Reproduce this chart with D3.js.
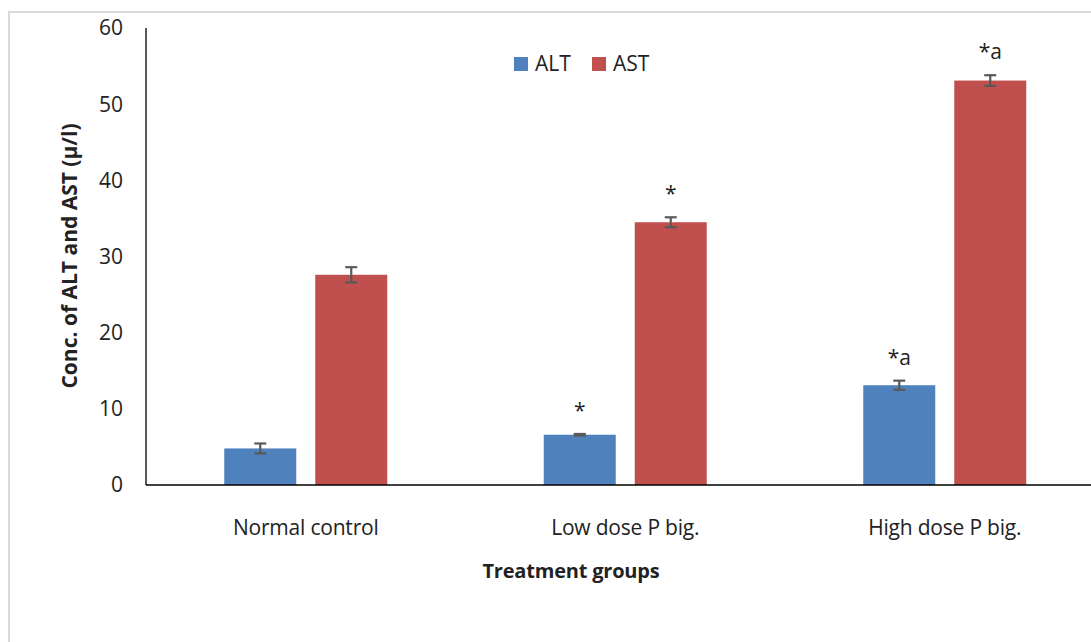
<!DOCTYPE html>
<html>
<head>
<meta charset="utf-8">
<script src="https://cdn.jsdelivr.net/npm/d3@7"></script>
<style>
  body { margin: 0; background: #fff; }
  text { font-family: "Open Sans", sans-serif; fill: #222; }
</style>
</head>
<body>
<svg id="chart" width="1091" height="642"></svg>
<script>
// data
const groups = ["Normal control", "Low dose P big.", "High dose P big."];
const seriesNames = ["ALT", "AST"];
const altValues = [4.8, 6.6, 13.1];
const astValues = [27.6, 34.5, 53.1];
const altErrors = [0.65, 0.1, 0.6];
const astErrors = [1.0, 0.65, 0.7];
const altMarks = ["", "*", "*a"];
const astMarks = ["", "*", "*a"];
const yTicks = [0, 10, 20, 30, 40, 50, 60];
const colors = ["#4F81BD", "#C0504D"];

const svg = d3.select("#chart");

// outer frame
svg.append("path")
    .attr("d", "M9,642 V12 H1091")
    .attr("fill", "none")
    .attr("stroke", "#d9d9d9")
    .attr("stroke-width", 2);

const margin = {top: 28, left: 146, bottom: 485};

const x0 = d3.scaleBand()
    .domain(groups)
    .range([margin.left, margin.left + 3 * 319.5])
    .paddingInner(0)
    .paddingOuter(0);

const x1 = d3.scaleBand()
    .domain(seriesNames)
    .range([0, 163])
    .paddingInner(19 / 91)
    .paddingOuter(0);

const y = d3.scaleLinear()
    .domain([0, 60])
    .range([margin.bottom, margin.top]);

// y tick labels
svg.append("g")
    .selectAll("text")
    .data(yTicks)
    .enter()
    .append("text")
    .attr("x", 123)
    .attr("y", d => y(d))
    .attr("dy", "0.35em")
    .attr("text-anchor", "end")
    .style("font-size", "21px")
    .text(d => d);

const rows = groups.map((g, i) => ({
    group: g,
    bars: [
        {name: "ALT", value: altValues[i], err: altErrors[i], mark: altMarks[i]},
        {name: "AST", value: astValues[i], err: astErrors[i], mark: astMarks[i]}
    ]
}));

const groupOffset = (x0.bandwidth() - 163) / 2;

const g = svg.append("g")
    .selectAll("g")
    .data(rows)
    .enter()
    .append("g")
    .attr("transform", d => `translate(${x0(d.group) + groupOffset},0)`);

g.selectAll("rect")
    .data(d => d.bars)
    .enter()
    .append("rect")
    .attr("x", d => x1(d.name))
    .attr("y", d => y(d.value))
    .attr("width", x1.bandwidth())
    .attr("height", d => y(0) - y(d.value))
    .attr("fill", (d, i) => colors[i]);

// error bars
const err = g.selectAll(".err")
    .data(d => d.bars)
    .enter()
    .append("g")
    .attr("class", "err")
    .attr("stroke", "#595959")
    .attr("stroke-width", 2.2);

err.append("line")
    .attr("x1", d => x1(d.name) + x1.bandwidth() / 2)
    .attr("x2", d => x1(d.name) + x1.bandwidth() / 2)
    .attr("y1", d => y(d.value + d.err))
    .attr("y2", d => y(d.value - d.err));

err.append("line")
    .attr("x1", d => x1(d.name) + x1.bandwidth() / 2 - 6)
    .attr("x2", d => x1(d.name) + x1.bandwidth() / 2 + 6)
    .attr("y1", d => y(d.value + d.err))
    .attr("y2", d => y(d.value + d.err));

err.append("line")
    .attr("x1", d => x1(d.name) + x1.bandwidth() / 2 - 6)
    .attr("x2", d => x1(d.name) + x1.bandwidth() / 2 + 6)
    .attr("y1", d => y(d.value - d.err))
    .attr("y2", d => y(d.value - d.err));

// significance marks
g.selectAll(".mark")
    .data(d => d.bars)
    .enter()
    .append("text")
    .attr("class", "mark")
    .attr("x", d => x1(d.name) + x1.bandwidth() / 2)
    .attr("y", d => y(d.value + d.err) - 16)
    .attr("text-anchor", "middle")
    .style("font-size", "21px")
    .text(d => d.mark);

// axes lines
svg.append("line")
    .attr("x1", margin.left).attr("x2", margin.left)
    .attr("y1", y(60)).attr("y2", y(0))
    .attr("stroke", "#000").attr("stroke-width", 1.3);

svg.append("line")
    .attr("x1", margin.left).attr("x2", 1091)
    .attr("y1", y(0)).attr("y2", y(0))
    .attr("stroke", "#000").attr("stroke-width", 1.6);

// category labels
svg.append("g")
    .selectAll("text")
    .data(groups)
    .enter()
    .append("text")
    .attr("x", d => x0(d) + x0.bandwidth() / 2)
    .attr("y", 535)
    .attr("text-anchor", "middle")
    .style("font-size", "21px")
    .style("letter-spacing", "-0.2px")
    .text(d => d);

// axis titles
svg.append("text")
    .attr("x", 571)
    .attr("y", 578)
    .attr("text-anchor", "middle")
    .style("font-size", "20px")
    .style("font-weight", "bold")
    .style("letter-spacing", "-0.2px")
    .text("Treatment groups");

svg.append("text")
    .attr("transform", "translate(77,256) rotate(-90)")
    .attr("text-anchor", "middle")
    .style("font-size", "21px")
    .style("font-weight", "bold")
    .text("Conc. of ALT and AST (\u03bc/l)");

// legend
const legend = svg.append("g")
    .selectAll("g")
    .data(seriesNames)
    .enter()
    .append("g")
    .attr("transform", (d, i) => `translate(${514 + i * 78},57)`);

legend.append("rect")
    .attr("width", 14)
    .attr("height", 14)
    .attr("fill", (d, i) => colors[i]);

legend.append("text")
    .attr("x", 21)
    .attr("y", 7)
    .attr("dy", "0.35em")
    .style("font-size", "21px")
    .text(d => d);
</script>
</body>
</html>
